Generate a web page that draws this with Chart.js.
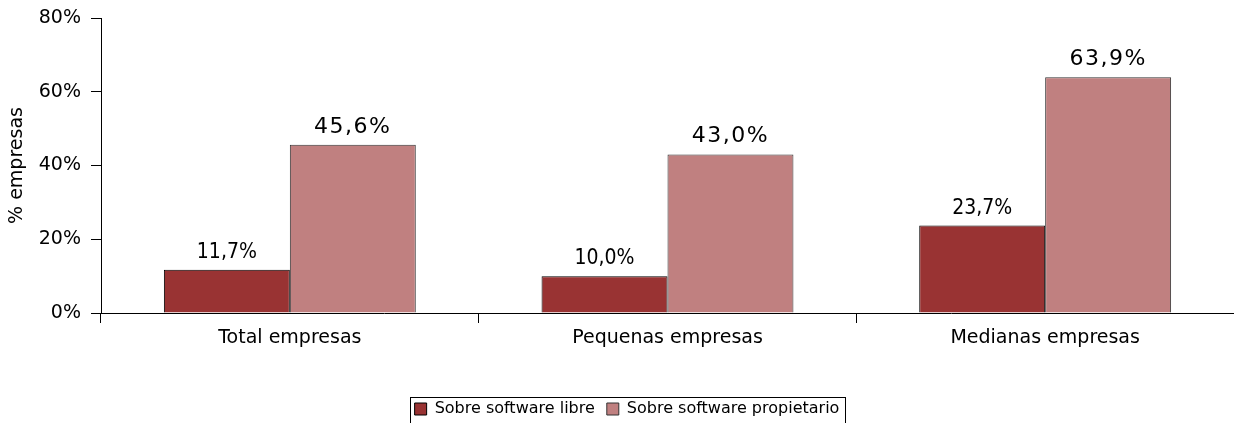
<!DOCTYPE html>
<html>
<head>
<meta charset="utf-8">
<script src="https://cdn.jsdelivr.net/npm/chart.js@4/dist/chart.umd.min.js"></script>
<style>
  html, body { margin: 0; padding: 0; background: #fff; }
  canvas { display: block; }
</style>
</head>
<body>
<canvas id="chart" width="1234" height="423"></canvas>
<script>
// datos
const categorias = ['Total empresas', 'Pequenas empresas', 'Medianas empresas'];
const serieLibre = [11.7, 10.0, 23.7];
const seriePropietario = [45.6, 43.0, 63.9];
const nombresSeries = ['Sobre software libre', 'Sobre software propietario'];
const ticksY = [0, 20, 40, 60, 80];

const FONT = 'DejaVu Sans';

// etiquetas de valor encima de cada barra
const etiquetasValor = {
    id: 'etiquetasValor',
    afterDatasetsDraw(chart) {
        const ctx = chart.ctx;
        ctx.save();
        ctx.fillStyle = '#000';
        ctx.textAlign = 'center';
        ctx.textBaseline = 'alphabetic';
        chart.data.datasets.forEach((ds, i) => {
            const meta = chart.getDatasetMeta(i);
            if (i === 0) {
                ctx.font = '21px "DejaVu Sans Condensed", ' + FONT;
                ctx.letterSpacing = '0px';
            } else {
                ctx.font = '22px ' + FONT;
                ctx.letterSpacing = '1.5px';
            }
            meta.data.forEach((bar, j) => {
                const txt = ds.data[j].toFixed(1).replace('.', ',') + '%';
                ctx.fillText(txt, bar.x, bar.y - 12);
            });
        });
        ctx.restore();
    }
};

// leyenda un poco a la derecha, con marco
const marcoLeyenda = {
    id: 'marcoLeyenda',
    afterLayout(chart) {
        const lg = chart.legend;
        if (!lg) return;
        lg.left += 20;
        (lg.legendHitBoxes || []).forEach(b => { b.left += 10; });
    },
    afterDraw(chart) {
        const boxes = chart.legend && chart.legend.legendHitBoxes;
        if (!boxes || !boxes.length) return;
        const left = Math.min(...boxes.map(b => b.left)) - 5;
        const right = Math.max(...boxes.map(b => b.left + b.width)) + 5;
        const top = Math.min(...boxes.map(b => b.top)) - 4;
        const ctx = chart.ctx;
        ctx.save();
        ctx.strokeStyle = '#000';
        ctx.lineWidth = 1;
        ctx.strokeRect(Math.round(left) + 0.5, Math.round(top) + 0.5, Math.round(right - left), 40);
        ctx.restore();
    }
};

new Chart(document.getElementById('chart').getContext('2d'), {
    type: 'bar',
    data: {
        labels: categorias,
        datasets: [{
            label: nombresSeries[0],
            data: serieLibre,
            backgroundColor: '#993333',
            borderColor: '#000',
            borderWidth: 1
        }, {
            label: nombresSeries[1],
            data: seriePropietario,
            backgroundColor: '#C08080',
            borderColor: '#333',
            borderWidth: 1
        }]
    },
    options: {
        responsive: false,
        animation: false,
        layout: { padding: { top: 18, right: 0, left: 0, bottom: -4 } },
        datasets: { bar: { categoryPercentage: 0.667, barPercentage: 1.0 } },
        plugins: {
            legend: {
                position: 'bottom',
                labels: {
                    font: { family: FONT, size: 16 },
                    color: '#000',
                    boxWidth: 12,
                    boxHeight: 12,
                    padding: 12
                }
            },
            tooltip: { enabled: false }
        },
        scales: {
            x: {
                afterFit(axis) { axis.height = 76; },
                grid: { display: true, drawOnChartArea: false, color: '#000', tickLength: 10 },
                border: { display: true, color: '#000' },
                ticks: { font: { family: FONT, size: 19 }, color: '#000', padding: 4 }
            },
            y: {
                min: 0,
                max: 80,
                afterBuildTicks(axis) { axis.ticks = ticksY.map(v => ({ value: v })); },
                afterFit(axis) { axis.width = 101; axis.paddingTop = 0; axis.paddingBottom = 0; },
                grid: { display: true, drawOnChartArea: false, color: '#000', tickLength: 10 },
                border: { display: true, color: '#000' },
                ticks: {
                    font: { family: FONT, size: 19 },
                    color: '#000',
                    padding: 10,
                    callback: v => v + '%'
                },
                title: {
                    display: true,
                    text: '% empresas',
                    font: { family: FONT, size: 19 },
                    color: '#000',
                    padding: { top: 6, bottom: 0 }
                }
            }
        }
    },
    plugins: [etiquetasValor, marcoLeyenda]
});
</script>
</body>
</html>
